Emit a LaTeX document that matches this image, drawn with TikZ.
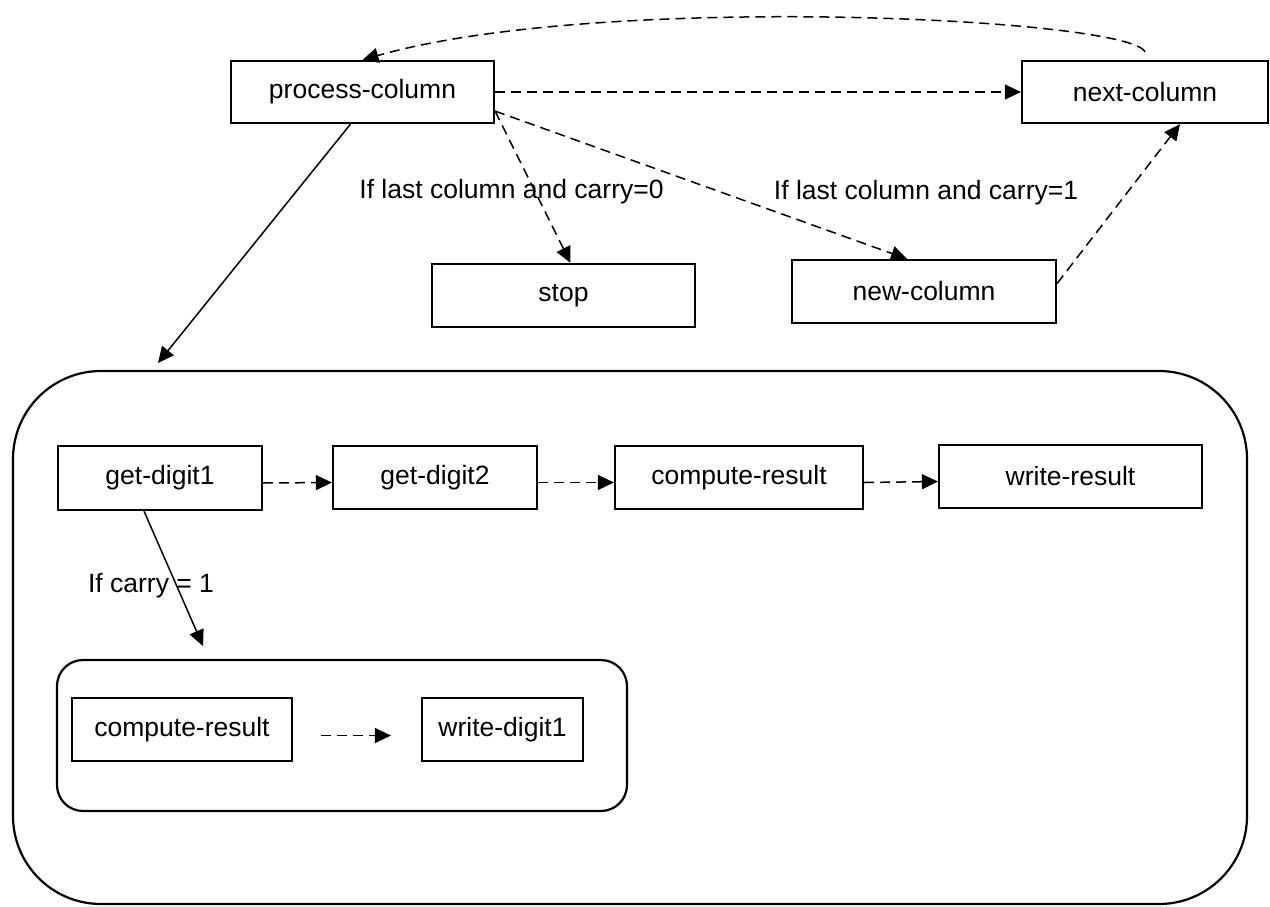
\documentclass[tikz,border=0pt]{standalone}
\usepackage{fontspec}
\setmainfont{Liberation Sans}
\usetikzlibrary{arrows.meta}
\begin{document}
\begin{tikzpicture}[x=1pt,y=-1pt,
  every node/.style={font=\fontsize{26.5}{30}\selectfont, inner sep=0pt},
  box/.style={draw, line width=2.2pt, rectangle, align=center},
  frame/.style={draw, line width=2.2pt, rectangle},
  link/.style={line width=1.5pt, -{Triangle[length=16pt,width=15pt]}},
  dlink/.style={link, dash pattern=on 10pt off 6pt},
  cond/.style={anchor=base}]
\useasboundingbox (0,0) rectangle (1270,906);

% outer frames
\node[frame, rounded corners=88pt, minimum width=1234pt, minimum height=533pt] (outer) at (630,637.5) {};
\node[frame, rounded corners=26pt, minimum width=570pt, minimum height=151pt] (inner) at (342,735.5) {};

% top level steps
\node[box, minimum width=263pt, minimum height=62pt] (pc) at (362.5,92) {process-column};
\node[box, minimum width=246pt, minimum height=62pt] (nc) at (1145,92) {next-column};
\node[box, minimum width=263pt, minimum height=63pt] (stop) at (563.5,295.5) {stop};
\node[box, minimum width=264pt, minimum height=63pt] (nwc) at (924,291.5) {new-column};

% steps inside the column
\node[box, minimum width=204pt, minimum height=64pt] (gd1) at (160,478) {get-digit1};
\node[box, minimum width=204pt, minimum height=63pt] (gd2) at (435,477.5) {get-digit2};
\node[box, minimum width=248pt, minimum height=63pt] (cr) at (739,477.5) {compute-result};
\node[box, minimum width=263pt, minimum height=63pt] (wr) at (1070.5,476.5) {write-result};

% carry branch
\node[box, minimum width=220pt, minimum height=63pt] (cr2) at (182,729.5) {compute-result};
\node[box, minimum width=161pt, minimum height=63pt] (wd1) at (502.5,729.5) {write-digit1};

% free ends of connectors
\coordinate (outerin) at (158,363);
\coordinate (innerin) at (203,646);

% conditions
\node[cond] (c0) at (511.5,198) {If last column and carry=0};
\node[cond] (c1) at (926,199) {If last column and carry=1};
\node[cond] (c2) at (151,592) {If carry = 1};

% connectors
\draw[dlink] ([yshift=8pt]nc.north) .. controls (1130,18) and (600,-8) .. (pc.north);
\draw[dlink] (pc.east) -- (nc.west);
\draw[dlink] ([yshift=13pt]pc.south east) -- ([xshift=7pt]stop.north);
\draw[dlink] ([yshift=13pt]pc.south east) -- ([xshift=-17pt]nwc.north);
\draw[dlink] ([yshift=8pt]nwc.east) -- ([xshift=35pt]nc.south);
\draw[link] ([xshift=-12pt]pc.south) -- (outerin);

\draw[dlink] ([yshift=-5pt]gd1.east) -- ([yshift=-5pt]gd2.west);
\draw[dlink] ([yshift=-5pt]gd2.east) -- ([yshift=-5pt]cr.west);
\draw[dlink] ([yshift=-5pt]cr.east) -- ([yshift=-5pt]wr.west);
\draw[link] ([xshift=-16pt]gd1.south) -- (innerin);

\draw[dlink, shorten <=28pt, shorten >=30pt] ([yshift=-6pt]cr2.east) -- ([yshift=-6pt]wd1.west);
\end{tikzpicture}
\end{document}
